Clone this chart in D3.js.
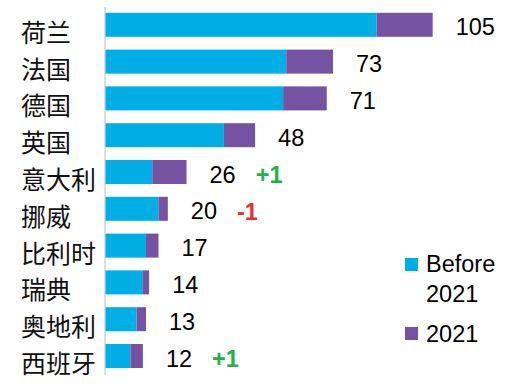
<!DOCTYPE html>
<html>
<head>
<meta charset="utf-8">
<script src="https://cdn.jsdelivr.net/npm/d3@7"></script>
<style>
  body { margin: 0; background: #fff; }
  text { font-family: "Liberation Sans", Arial, "Noto Sans CJK SC", sans-serif; }
  .cat { font-family: "Noto Sans CJK SC", sans-serif; }
</style>
</head>
<body>
<div id="vis"></div>
<script>
const width = 530;
const height = 386;

const countries = ["荷兰", "法国", "德国", "英国", "意大利", "挪威", "比利时", "瑞典", "奥地利", "西班牙"];
const before2021 = [87, 58, 57, 38, 15, 17, 13, 12, 10, 8];
const in2021 = [18, 15, 14, 10, 11, 3, 4, 2, 3, 4];
const totals = [105, 73, 71, 48, 26, 20, 17, 14, 13, 12];
const changes = ["", "", "", "", "+1", "-1", "", "", "", "+1"];
const seriesNames = ["Before 2021", "2021"];

const colors = ["#00AEE6", "#7652A2"];

const svg = d3.select("#vis").append("svg")
  .attr("width", width)
  .attr("height", height);

const x = d3.scaleLinear().domain([0, 105]).range([105.5, 432.7]);
const y = d3.scaleBand().domain(countries).range([6.4, 374.4])
  .paddingInner(0.348).paddingOuter(0.174);

// vertical axis line only
svg.append("g")
  .attr("transform", "translate(104.5,0)")
  .call(d3.axisLeft(y).tickSize(0).tickFormat(""))
  .call(g => g.select(".domain").attr("stroke", "#dedede").attr("stroke-width", 2));

const rows = countries.map((c, i) => ({ c, b: before2021[i], n: in2021[i], t: totals[i], ch: changes[i] }));

// stacked bars
svg.selectAll("rect.before").data(rows).enter().append("rect")
  .attr("x", x(0))
  .attr("y", d => y(d.c))
  .attr("width", d => x(d.b) - x(0))
  .attr("height", y.bandwidth())
  .attr("fill", colors[0]);

svg.selectAll("rect.y2021").data(rows).enter().append("rect")
  .attr("x", d => x(d.b))
  .attr("y", d => y(d.c))
  .attr("width", d => x(d.b + d.n) - x(d.b))
  .attr("height", y.bandwidth())
  .attr("fill", colors[1]);

// category labels
svg.selectAll("text.cat").data(rows).enter().append("text")
  .attr("class", "cat")
  .attr("x", 21)
  .attr("y", d => y(d.c) + y.bandwidth() / 2 + 17)
  .attr("font-size", 25)
  .attr("fill", "#111")
  .text(d => d.c);

// value labels
const vals = svg.selectAll("text.val").data(rows).enter().append("text")
  .attr("class", "val")
  .attr("x", d => x(d.b + d.n) + 23)
  .attr("y", d => y(d.c) + y.bandwidth() / 2 + 10.5)
  .attr("font-size", 23.5)
  .attr("fill", "#000")
  .text(d => d.t);

// change labels
vals.each(function (d) {
  if (!d.ch) return;
  const w = this.getComputedTextLength();
  svg.append("text")
    .attr("x", x(d.b + d.n) + 23 + w + 20)
    .attr("y", y(d.c) + y.bandwidth() / 2 + 11)
    .attr("font-size", 23.5)
    .attr("font-weight", "bold")
    .attr("fill", d.ch[0] === "+" ? "#22B04B" : "#E8302E")
    .text(d.ch);
});

// legend
const legend = svg.append("g");
legend.append("rect").attr("x", 405).attr("y", 258).attr("width", 13).attr("height", 13).attr("fill", colors[0]);
legend.append("text").attr("x", 426).attr("y", 272).attr("font-size", 23.5).attr("fill", "#000")
  .text(seriesNames[0].split(" ")[0]);
legend.append("text").attr("x", 426).attr("y", 302).attr("font-size", 23.5).attr("fill", "#000")
  .text(seriesNames[0].split(" ")[1]);
legend.append("rect").attr("x", 405).attr("y", 327).attr("width", 13).attr("height", 13).attr("fill", colors[1]);
legend.append("text").attr("x", 426).attr("y", 342).attr("font-size", 23.5).attr("fill", "#000")
  .text(seriesNames[1]);
</script>
</body>
</html>
